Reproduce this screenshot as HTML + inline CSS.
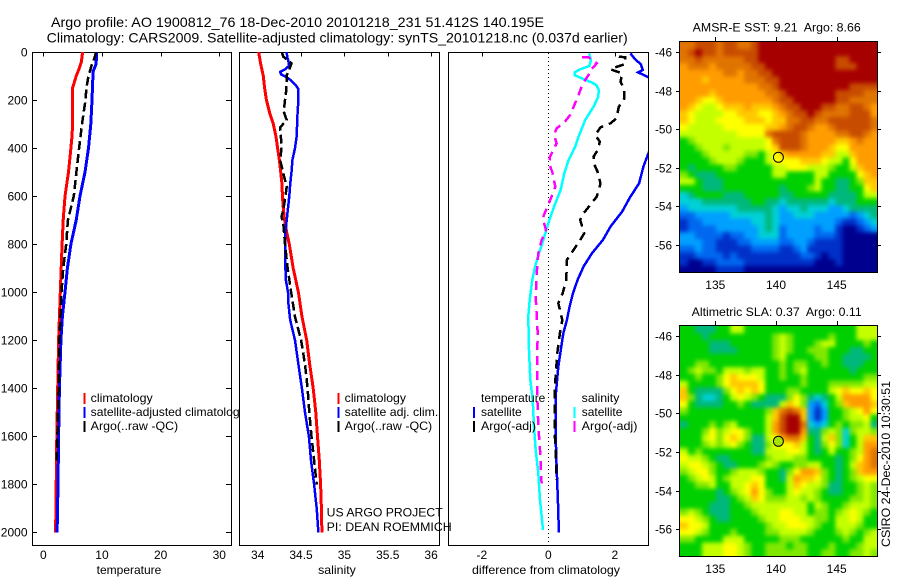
<!DOCTYPE html>
<html>
<head>
<meta charset="utf-8">
<title>Argo profile chart</title>
<style>
html,body{margin:0;padding:0;background:#fff;}
svg{display:block;}
text{font-family:"Liberation Sans",sans-serif;fill:#000;font-size:12px;}
</style>
</head>
<body>
<svg id="chart" xmlns="http://www.w3.org/2000/svg" width="900" height="580" viewBox="0 0 900 580">
<defs>
<clipPath id="clip-temp"><rect x="32" y="52" width="199" height="493"/></clipPath>
<clipPath id="clip-sal"><rect x="239" y="52" width="200" height="493"/></clipPath>
<clipPath id="clip-diff"><rect x="448" y="52" width="200" height="493"/></clipPath>
<clipPath id="clip-sst"><rect x="680" y="41" width="198" height="232"/></clipPath>
<clipPath id="clip-sla"><rect x="680" y="325" width="198" height="232"/></clipPath>
<filter id="map-smooth" filterUnits="userSpaceOnUse" x="650" y="10" width="250" height="570" color-interpolation-filters="sRGB"><feGaussianBlur stdDeviation="2.2"/></filter>
</defs>
<rect x="0" y="0" width="900" height="580" fill="#fff"/>
<text x="51" y="27" font-size="14" style="font-size:14px" textLength="493" lengthAdjust="spacingAndGlyphs">Argo profile: AO 1900812_76 18-Dec-2010 20101218_231 51.412S 140.195E</text>
<text x="46.7" y="42.5" style="font-size:14px" textLength="581" lengthAdjust="spacingAndGlyphs">Climatology: CARS2009. Satellite-adjusted climatology: synTS_20101218.nc (0.037d earlier)</text>
<g id="layer"></g>
</svg>
<script>
// Shared depth ticks
const depthTicks = [0,200,400,600,800,1000,1200,1400,1600,1800,2000];

// Temperature panel
const tempTicks = [0,10,20,30];
const tempClimDepth = [0,40,70,100,150,200,300,350,400,500,600,700,800,900,1000,1200,1400,1600,1800,2000];
const tempClimValue = [6.7,6.5,6.1,5.6,5.0,5.0,5.0,4.9,4.7,4.3,3.7,3.4,3.2,3.05,2.9,2.6,2.45,2.3,2.2,2.1];
const tempSatDepth = [0,50,80,100,200,300,400,500,600,700,800,900,1000,1100,1200,1400,1600,1800,2000];
const tempSatValue = [9.1,9.0,8.5,8.45,8.3,8.1,7.7,7.1,6.25,5.6,4.7,4.1,3.7,3.25,3.0,2.75,2.6,2.5,2.35];
const tempArgoDepth = [0,20,50,100,150,200,300,400,500,600,700,800,900,1000,1200,1400,1600,1700];
const tempArgoValue = [9.0,8.8,8.3,7.7,7.35,7.2,6.6,6.1,5.65,5.2,4.2,3.9,3.4,3.1,2.75,2.6,2.4,2.3];

// Salinity panel
const salTicks = [34,34.5,35,35.5,36];
const salClimDepth = [0,50,100,150,200,250,300,350,400,450,500,550,600,650,700,750,800,900,1000,1100,1200,1300,1400,1500,1600,1700,1800,1900,2000];
const salClimValue = [34.01,34.035,34.065,34.08,34.1,34.135,34.18,34.21,34.23,34.25,34.265,34.28,34.285,34.295,34.31,34.335,34.365,34.41,34.47,34.51,34.565,34.6,34.64,34.67,34.69,34.71,34.725,34.735,34.74];
const salSatDepth = [0,20,40,60,72,83,93,105,120,138,155,200,250,300,350,400,450,500,550,600,650,700,750,800,900,950,1000,1032,1116,1200,1300,1400,1500,1600,1700,1800,1900,2000];
const salSatValue = [34.335,34.34,34.355,34.355,34.315,34.26,34.27,34.335,34.39,34.44,34.47,34.47,34.46,34.455,34.45,34.43,34.40,34.39,34.375,34.365,34.35,34.335,34.32,34.32,34.32,34.325,34.35,34.35,34.375,34.43,34.47,34.51,34.545,34.59,34.615,34.65,34.68,34.70];
const salArgoDepth = [0,19,47,82,96,158,200,248,283,314,366,400,450,505,561,602,658,686,713,799,899,999,1102,1200,1300,1400,1500,1600,1700,1800];
const salArgoValue = [34.277,34.295,34.39,34.355,34.335,34.33,34.315,34.30,34.335,34.26,34.27,34.275,34.26,34.295,34.335,34.32,34.295,34.275,34.295,34.315,34.345,34.385,34.43,34.5,34.545,34.575,34.595,34.62,34.65,34.68];

// Difference panel
const diffTicks = [-2,0,2];
const diffTempSatDepth = [6,33,50,75,85,93,110,158,297,415,477,547,602,665,727,783,838,894,949,1005,1060,1116,1171,1310,1420,1587,1726,1865,2000];
const diffTempSatValue = [2.47,2.63,2.78,2.84,2.7,2.83,3.08,3.4,3.5,3.03,2.86,2.73,2.47,2.22,1.87,1.64,1.31,1.06,0.88,0.74,0.64,0.56,0.45,0.30,0.23,0.22,0.25,0.29,0.32];
const diffTempArgoDepth = [19,22,50,61,72,89,124,158,193,228,276,297,314,346,373,408,436,464,498,547,602,637,672,699,755,783,824,866,949,1005,1046,1074,1116,1171,1254,1351,1420,1587,1657,1782];
const diffTempArgoValue = [2.12,2.32,2.32,2.07,1.87,2.22,2.17,2.29,2.29,2.12,2.05,1.87,1.57,1.41,1.55,1.49,1.36,1.37,1.48,1.57,1.46,1.26,1.06,0.96,1.08,0.96,0.76,0.56,0.54,0.43,0.3,0.35,0.42,0.35,0.27,0.22,0.19,0.19,0.23,0.24];
const diffSalSatDepth = [6,33,58,72,85,96,110,124,137,158,186,228,283,352,394,450,505,575,644,713,783,838,894,949,1032,1101,1240,1365,1448,1559,1657,1754,1865,1990];
const diffSalSatValue = [1.23,1.28,1.24,0.96,0.79,0.79,1.01,1.26,1.44,1.52,1.5,1.36,1.11,0.91,0.81,0.61,0.48,0.37,0.17,0,-0.15,-0.28,-0.40,-0.48,-0.56,-0.6,-0.58,-0.54,-0.47,-0.43,-0.38,-0.30,-0.25,-0.16];
const diffSalArgoDepth = [22,22,47,75,96,130,186,228,262,290,318,346,380,408,436,464,505,561,602,658,692,741,783,838,921,1019,1171,1310,1435,1559,1657,1796];
const diffSalArgoValue = [1.01,1.21,1.46,1.28,1.21,1.04,0.89,0.76,0.66,0.5,0.25,0.17,0.25,0.15,0.05,0.03,0.13,0.21,0.1,-0.07,-0.17,-0.07,-0.2,-0.3,-0.35,-0.38,-0.32,-0.34,-0.33,-0.3,-0.25,-0.2];

// Maps
const lonTicks = [135,140,145];
const latTicks = [-46,-48,-50,-52,-54,-56];
const argoLon = [140.2];
const argoLat = [-51.45];
// Colour class values, 0 (coldest / lowest) to 14 (warmest / highest), rows north to south
const sstGrid = [
[12,12,13,13,13,12,13,13,12,12,13,14,14,14,14,14,14,14,14,14,14,14,14,14,14,14,14,14],
[12,13,14,13,13,12,13,13,13,13,13,14,14,14,14,14,14,14,14,14,14,14,14,14,14,14,14,14],
[12,12,13,12,12,12,12,12,12,13,13,14,14,14,14,14,14,14,14,14,14,14,13,13,14,14,14,14],
[11,12,12,12,11,12,12,12,12,12,13,13,14,14,14,14,14,14,14,14,14,14,13,13,13,14,14,14],
[11,11,11,11,11,11,12,12,11,12,12,13,13,14,14,14,14,14,14,14,14,14,14,14,14,14,14,14],
[11,11,11,10,11,11,11,11,11,12,12,12,13,13,14,14,14,14,14,14,14,14,14,14,14,14,14,14],
[11,11,11,11,11,11,11,11,11,11,11,12,12,13,14,14,14,14,14,14,14,14,14,14,13,13,13,13],
[11,11,11,11,10,11,11,11,11,11,11,11,12,12,13,14,14,14,14,14,14,14,13,13,13,13,12,12],
[11,11,10,9,9,10,11,11,11,11,11,11,11,12,13,13,14,14,14,14,14,14,13,13,12,12,12,12],
[11,10,9,8,8,9,10,10,10,11,10,10,10,11,12,13,13,14,14,14,13,13,12,12,13,13,12,11],
[10,9,8,8,8,8,9,9,10,10,10,9,9,10,11,12,13,13,14,13,12,12,12,12,13,13,13,11],
[10,9,8,8,8,9,9,9,9,10,10,10,9,10,10,12,12,13,13,12,12,13,13,13,13,13,13,12],
[9,8,8,8,8,8,9,9,9,9,9,9,10,10,11,12,13,13,12,11,11,12,13,13,13,13,13,12],
[8,8,8,8,8,8,8,8,9,9,9,9,12,13,13,13,13,12,11,11,11,11,12,12,13,13,12,11],
[6,7,8,8,8,8,8,8,8,8,8,8,9,12,13,13,13,12,11,11,11,11,10,10,11,12,11,11],
[6,6,7,8,8,8,7,8,8,8,8,8,9,10,13,13,13,12,11,11,11,10,9,9,11,11,11,11],
[6,6,6,7,8,8,8,8,8,7,7,6,8,9,10,11,11,11,11,11,10,10,8,8,10,11,11,11],
[6,6,6,6,7,8,8,8,7,6,6,6,8,9,9,9,9,10,10,10,9,8,8,6,9,11,11,11],
[6,5,6,6,6,6,7,7,6,6,6,6,6,8,8,9,9,9,8,8,8,7,6,6,8,10,11,11],
[7,6,5,5,5,6,6,6,6,6,6,6,6,8,8,6,6,6,6,8,8,6,6,6,6,9,10,11],
[8,8,6,5,5,5,6,6,6,6,6,6,6,6,6,6,6,6,6,8,6,6,5,5,6,7,10,10],
[6,6,6,5,5,5,6,6,6,6,6,6,6,6,5,6,6,6,7,8,6,6,5,5,6,6,9,10],
[4,5,6,6,6,6,5,5,5,6,6,6,6,6,5,5,6,6,6,6,6,5,5,5,5,6,8,8],
[4,4,4,5,5,5,5,5,5,5,6,6,5,5,4,5,5,5,5,5,5,4,5,5,5,6,6,6],
[3,4,4,4,4,4,4,4,5,5,5,5,5,4,3,4,4,5,4,4,4,3,3,4,5,5,5,5],
[2,2,3,3,3,3,3,4,4,4,4,4,5,4,3,3,4,4,4,3,3,3,3,3,2,3,4,5],
[1,2,2,3,3,3,3,3,3,3,4,4,5,4,3,3,3,3,3,3,3,3,2,1,1,2,3,4],
[1,2,2,2,2,3,3,3,3,3,3,4,5,4,2,3,3,3,3,2,3,3,1,0,0,1,2,3],
[3,3,2,2,2,2,1,2,2,3,3,4,4,4,2,3,3,3,3,2,2,2,1,0,0,0,0,0],
[3,3,3,2,2,1,1,1,2,2,3,3,3,3,2,2,3,3,2,1,1,1,1,0,0,0,0,0],
[2,2,3,2,2,1,1,1,1,1,2,2,2,2,1,1,2,3,1,1,1,1,1,0,0,0,0,0],
[1,1,2,2,2,2,1,2,1,1,1,1,1,1,1,1,1,2,2,1,0,1,1,0,0,0,0,0],
[1,0,0,1,1,2,2,2,2,1,1,1,1,1,1,1,1,1,1,0,0,0,1,0,0,0,0,0],
[0,0,0,0,0,1,1,1,1,0,0,0,0,0,0,0,0,0,0,0,0,0,0,0,0,0,0,0]
];
const slaGrid = [
[6,6,5,5,5,6,6,8,8,6,6,6,6,6,6,6,6,6,6,6,6,6,6,6,6,8,8,8],
[6,6,6,5,6,6,6,6,6,6,6,6,6,7,8,7,6,6,6,6,6,7,6,6,6,8,8,8],
[6,6,6,6,5,5,5,6,6,6,6,6,6,7,8,7,6,6,6,7,8,8,6,6,6,6,7,6],
[6,6,6,6,5,5,5,5,6,6,6,6,6,7,8,7,6,6,7,7,7,6,6,6,5,5,6,6],
[6,6,6,6,6,6,6,6,6,6,6,6,6,7,8,6,6,6,6,7,7,6,6,5,5,5,5,6],
[6,6,7,7,6,6,6,6,6,6,6,6,6,6,7,6,7,7,6,6,7,6,6,5,5,5,6,6],
[6,7,8,7,7,6,8,8,8,7,8,8,6,6,7,6,7,8,6,6,6,6,6,6,5,6,6,6],
[6,6,7,6,6,7,9,10,9,9,9,8,6,6,7,6,6,7,6,6,6,6,6,6,6,6,7,7],
[8,6,6,6,6,7,9,10,10,10,10,9,6,6,6,6,6,7,6,6,6,7,7,7,7,7,8,8],
[10,6,5,5,5,5,7,9,10,9,10,9,6,6,6,7,7,6,6,6,6,8,9,10,9,9,10,9],
[10,7,5,4,4,5,6,8,9,8,7,6,5,5,5,7,9,7,5,4,5,6,8,11,11,11,11,9],
[9,6,5,5,5,5,6,6,7,6,5,5,5,5,8,10,9,7,3,2,4,6,7,10,11,11,11,10],
[7,6,6,6,6,6,6,6,6,6,6,6,7,10,12,13,12,10,3,1,3,6,6,7,8,9,11,9],
[6,6,6,6,6,6,6,6,6,6,6,6,8,10,13,14,14,10,3,1,3,6,6,7,8,8,9,6],
[5,6,6,6,7,6,7,8,6,6,6,6,8,11,13,14,14,12,4,3,4,6,7,6,7,7,8,5],
[6,6,6,7,9,7,8,9,9,7,6,6,8,11,13,14,14,11,5,5,7,8,7,4,7,8,8,7],
[6,6,6,8,9,7,9,10,9,7,5,5,8,9,11,12,12,10,6,5,8,10,7,4,6,8,10,10],
[6,6,6,7,8,7,8,9,7,6,5,5,7,9,9,9,10,8,6,5,7,9,7,4,6,8,11,11],
[8,6,7,6,6,6,6,6,6,6,5,5,8,8,8,9,9,8,6,5,6,8,6,6,7,8,11,12],
[9,8,8,7,6,5,5,6,6,6,6,6,7,8,8,8,7,7,6,6,6,6,5,6,7,9,11,12],
[8,9,9,8,7,6,5,5,6,6,6,7,8,7,6,6,7,7,8,8,6,6,5,6,8,10,11,12],
[7,8,9,9,7,6,6,7,8,8,8,7,6,6,5,7,9,11,11,10,7,6,5,6,7,10,11,11],
[6,7,8,9,8,6,7,8,8,8,9,9,6,6,5,8,11,10,10,9,7,6,5,6,7,8,9,9],
[6,6,7,7,8,6,6,8,8,9,10,9,6,6,6,8,10,9,8,8,7,5,5,6,6,7,8,7],
[6,6,6,6,6,5,6,7,8,9,11,9,7,6,6,8,9,8,8,7,6,5,5,6,6,7,8,7],
[6,6,6,6,6,5,5,6,7,8,10,9,7,7,7,8,8,7,8,7,6,6,6,6,7,7,8,7],
[6,6,6,6,5,5,5,6,6,7,8,8,8,8,8,8,8,8,6,8,7,6,6,7,8,8,8,7],
[7,8,7,6,5,5,5,6,6,6,7,8,8,8,9,9,8,8,6,7,7,6,7,8,9,8,7,6],
[9,9,8,7,6,5,5,6,6,6,6,7,8,8,9,9,9,8,8,7,7,6,8,8,9,8,6,6],
[10,9,9,8,6,6,6,6,6,6,6,6,7,8,8,9,9,9,8,7,6,6,8,8,8,7,6,6],
[9,9,8,7,6,6,6,7,6,6,6,6,7,7,8,8,8,8,7,6,6,6,7,8,7,6,7,8],
[7,7,6,6,6,6,8,8,8,6,6,6,6,6,7,7,7,6,6,6,6,6,6,7,6,6,8,8],
[6,6,6,8,8,8,9,9,8,7,6,6,7,7,7,6,7,7,6,6,6,7,6,6,6,7,8,8],
[6,6,6,8,8,8,9,9,8,7,6,6,7,7,7,7,7,7,6,6,7,7,6,6,7,7,8,7]
];
const colourClasses = ['#00008f','#0030c8','#0068f0','#00a0ff','#00d0d8','#00b87c','#00d000','#80e800','#c4ff00','#ffff00','#ffc800','#ff9c00','#e07400','#c84c00','#a60000'];

// Axis functions
function yDepth(d){ return 52 + d*0.2402; }
function xTemp(v){ return 43.3 + v*5.867; }
function xSal(v){ return 257.7 + (v-34)*86.7; }
function xDiff(v){ return 548.3 + v*33.25; }
function xLon(l){ return 715.3 + (l-135)*12.14; }
function yLatTop(l){ return 52.3 + (-46-l)*19.27; }
function yLatBottom(l){ return 336 + (-46-l)*19.33; }

const layer = document.getElementById('layer');
const NS = 'http://www.w3.org/2000/svg';
function make(tag, attrs, parent){
  const e = document.createElementNS(NS, tag);
  for (const k in attrs) e.setAttribute(k, attrs[k]);
  (parent || layer).appendChild(e);
  return e;
}
function tline(x1,y1,x2,y2,parent,name){
  const t = make('line',{x1:x1,y1:y1,x2:x2,y2:y2,stroke:'#000','stroke-width':1,'shape-rendering':'crispEdges'},parent);
  
  
  return t;
}
function label(str,x,y,anchor,parent,name,len){
  const t = make('text',{x:x,y:y,'text-anchor':anchor||'start'},parent);
  t.textContent = str;
  if (len){
    t.setAttribute('textLength', len);
    t.setAttribute('lengthAdjust', 'spacingAndGlyphs');
  }
  
  
  return t;
}
function panel(name,left,right,title,titleCentre,titleLen,ticks,xf,fmt,yTicksOn){
  const g = make('g',{});
  
  
  const box = make('rect',{x:left+0.5,y:52.5,width:right-left,height:493,fill:'#fff',stroke:'#000','stroke-width':1,'shape-rendering':'crispEdges'},g);
  
  
  ticks.forEach(function(v){
    const x = Math.round(xf(v))+0.5;
    if (v !== 0 || name !== 'difference') tline(x,52,x,56.5,g,name+'-x-tick');
    label(fmt(v),xf(v),559,'middle',g,name+'-x-tick-label');
  });
  if (yTicksOn){
    depthTicks.forEach(function(d){
      const y = Math.round(yDepth(d))+0.5;
      tline(left,y,left+5,y,g,name+'-y-tick');
      tline(right-5,y,right,y,g,name+'-y-tick-right');
      label(String(d),27.5,y+4,'end',g,name+'-y-tick-label');
    });
  }
  label(title,titleCentre,574,'middle',g,name+'-x-axis-title',titleLen);
  return g;
}
function series(name,depths,values,xf,colour,width,dash,clip){
  const pts = depths.map(function(d,i){ return xf(values[i]).toFixed(1)+','+yDepth(d).toFixed(1); });
  const p = make('polyline',{points:pts.join(' '),fill:'none',stroke:colour,'stroke-width':width,'clip-path':'url(#'+clip+')','shape-rendering':'crispEdges'});
  if (dash) p.setAttribute('stroke-dasharray', dash);
  
  
  return p;
}
function legend(name,barX,textX,rows){
  rows.forEach(function(r,i){
    const y = 402 + i*14;
    if (r.colour){
      const b = make('rect',{x:barX,y:y-9,width:2,height:11,fill:r.colour,'shape-rendering':'crispEdges'});
      
      
    }
    label(r.text,textX,y,'start',layer,name+'-entry',r.len);
  });
}
function mapPanel(name,grid,yf,frameTop,frameBottom,titleStr,titleX,titleLen,titleY,xLabelY,fillColour){
  const g = make('g',{});
  
  
  const rows = grid.length, cols = grid[0].length;
  const lonW = 132.17, lonE = 148.36;
  const latN = name === 'sst' ? -45.5 : -45.52;
  const latS = name === 'sst' ? -57.44 : -57.38;
  const clipper = make('g',{'clip-path':'url(#clip-'+name+')'},g);
  const smooth = make('g',{filter:'url(#map-smooth)'},clipper);
  grid.forEach(function(row,r){
    row.forEach(function(v,c){
      let x0 = xLon(lonW + (lonE-lonW)*c/cols), x1 = xLon(lonW + (lonE-lonW)*(c+1)/cols);
      let y0 = yf(latN + (latS-latN)*r/rows), y1 = yf(latN + (latS-latN)*(r+1)/rows);
      if (c === 0) x0 -= 10;
      if (c === cols-1) x1 += 10;
      if (r === 0) y0 -= 10;
      if (r === rows-1) y1 += 10;
      const cell = make('rect',{x:x0.toFixed(2),y:y0.toFixed(2),width:(x1-x0+0.4).toFixed(2),height:(y1-y0+0.4).toFixed(2),fill:colourClasses[Math.max(0,Math.min(14,v))]},smooth);
      
      
    });
  });
  const frame = make('rect',{x:679.5,y:frameTop+0.5,width:198,height:frameBottom-frameTop,fill:'none',stroke:'#000','stroke-width':1,'shape-rendering':'crispEdges'},g);
  
  
  lonTicks.forEach(function(l){
    const x = Math.round(xLon(l))+0.5;
    tline(x,frameTop-4,x,frameTop,g,name+'-lon-tick');
    label(String(l),xLon(l),xLabelY,'middle',g,name+'-lon-label');
  });
  latTicks.forEach(function(l){
    const y = Math.round(yf(l))+0.5;
    tline(676,y,680,y,g,name+'-lat-tick');
    tline(878,y,881,y,g,name+'-lat-tick-right');
    label(String(l),655,y+4,'start',g,name+'-lat-label',17);
  });
  label(titleStr,titleX,titleY,'start',g,name+'-map-title',titleLen);
  argoLon.forEach(function(lon,i){
    const m = make('circle',{cx:xLon(lon).toFixed(1),cy:yf(argoLat[i]).toFixed(1),r:5,fill:fillColour,stroke:'#000','stroke-width':1},g);
    
    
  });
}

// Temperature
panel('temperature',32,231,'temperature',129,64.7,tempTicks,xTemp,String,true);
series('temperature-climatology-line',tempClimDepth,tempClimValue,xTemp,'#ff0000',3,null,'clip-temp');
series('temperature-satellite-line',tempSatDepth,tempSatValue,xTemp,'#0000ff',3,null,'clip-temp');
series('temperature-argo-line',tempArgoDepth,tempArgoValue,xTemp,'#000000',2.5,'9 4','clip-temp');
legend('temperature-legend',83.5,90.7,[
  {text:'climatology',colour:'#ff0000',len:62},
  {text:'satellite-adjusted climatology',colour:'#0000ff',len:155},
  {text:'Argo(..raw -QC)',colour:'#000000',len:87.5}
]);

// Salinity
panel('salinity',239,439,'salinity',337,37.7,salTicks,xSal,String,false);
series('salinity-climatology-line',salClimDepth,salClimValue,xSal,'#ff0000',3,null,'clip-sal');
series('salinity-satellite-line',salSatDepth,salSatValue,xSal,'#0000ff',2.5,null,'clip-sal');
series('salinity-argo-line',salArgoDepth,salArgoValue,xSal,'#000000',2.5,'9 4','clip-sal');
legend('salinity-legend',337.5,344.7,[
  {text:'climatology',colour:'#ff0000',len:61.3},
  {text:'satellite adj. clim.',colour:'#0000ff',len:93.6},
  {text:'Argo(..raw -QC)',colour:'#000000',len:87.5}
]);

// Difference
panel('difference',448,648,'difference from climatology',546,148,diffTicks,xDiff,String,false);
const zeroLine = make('line',{x1:548.5,y1:53,x2:548.5,y2:545,stroke:'#000','stroke-width':1,'stroke-dasharray':'1 3','shape-rendering':'crispEdges'});


series('diff-temperature-satellite-line',diffTempSatDepth,diffTempSatValue,xDiff,'#0000ff',2.5,null,'clip-diff');
series('diff-temperature-argo-line',diffTempArgoDepth,diffTempArgoValue,xDiff,'#000000',2.5,'9 6','clip-diff');
series('diff-salinity-satellite-line',diffSalSatDepth,diffSalSatValue,xDiff,'#00ffff',2.5,null,'clip-diff');
series('diff-salinity-argo-line',diffSalArgoDepth,diffSalArgoValue,xDiff,'#ff00ff',2.5,'9 6','clip-diff');
legend('difference-temperature-legend',473,481,[
  {text:'temperature',len:64.3},
  {text:'satellite',colour:'#0000ff',len:40.7},
  {text:'Argo(-adj)',colour:'#000000',len:55}
]);
legend('difference-salinity-legend',573.5,581.7,[
  {text:'salinity',len:37.7},
  {text:'satellite',colour:'#00ffff',len:40.7},
  {text:'Argo(-adj)',colour:'#ff00ff',len:55.7}
]);

// Credit text
label('US ARGO PROJECT',326.7,516.5,'start',layer,'project-credit',116);
label('PI: DEAN ROEMMICH',326.7,531,'start',layer,'pi-credit',125);

// Maps
mapPanel('sst',sstGrid,yLatTop,41,272,'AMSR-E SST: 9.21\u00a0 Argo: 8.66',692.7,168,31.5,289,'none');
mapPanel('sla',slaGrid,yLatBottom,325,556,'Altimetric SLA: 0.37\u00a0 Argo: 0.11',691.7,170,316,573,'#a8e400');

const stamp = make('text',{x:0,y:0,transform:'translate(890,547) rotate(-90)',textLength:166,lengthAdjust:'spacingAndGlyphs'});
stamp.textContent = 'CSIRO 24-Dec-2010 10:30:51';


</script>
</body>
</html>
